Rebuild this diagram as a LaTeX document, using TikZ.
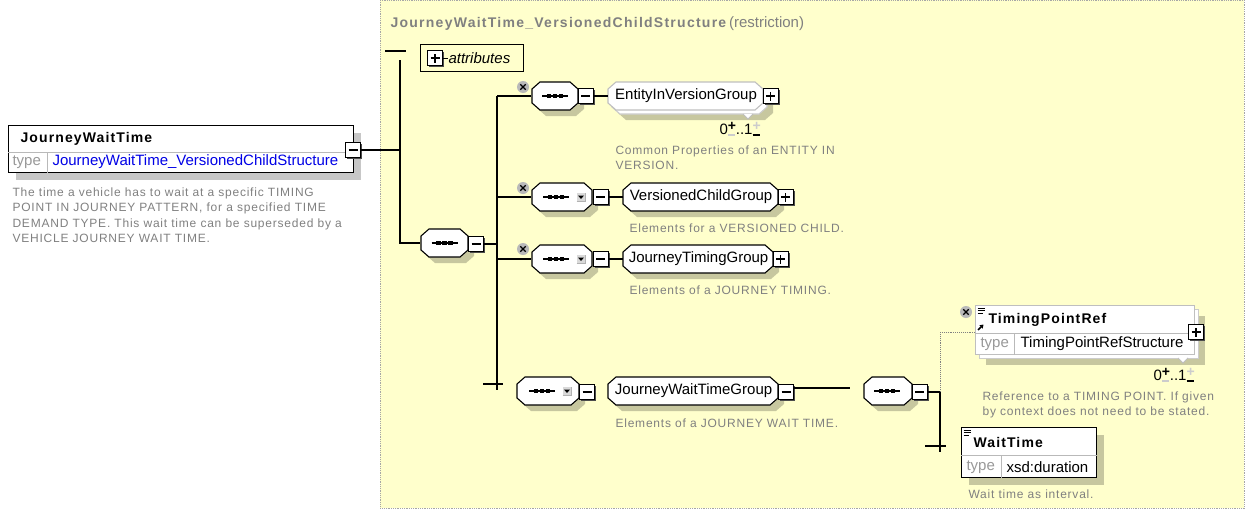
\documentclass[tikz,border=0pt]{standalone}
\usepackage{fontspec}
\setmainfont{Liberation Sans}
\newfontfamily\hdrff[LetterSpace=8]{Liberation Sans}
\newfontfamily\titleff[LetterSpace=9]{Liberation Sans}
\newfontfamily\descff[LetterSpace=6.5]{Liberation Sans}
\usepackage{tikz}
\usetikzlibrary{arrows.meta,positioning,shadows}

\definecolor{panelyellow}{RGB}{255,255,204}
\definecolor{descgray}{RGB}{128,128,128}
\definecolor{typeblue}{RGB}{0,0,230}

\newcommand\lblfont{\fontsize{15}{18}\selectfont}
\newcommand\hdrfont{\hdrff\bfseries\fontsize{14}{17}\selectfont}
\newcommand\descfont{\descff\fontsize{12}{15.5}\selectfont}
\newcommand\occpm[2]{\makebox[8pt][l]{\rlap{\raisebox{3.5pt}{\fontsize{14}{14}\selectfont\bfseries\color{#1}+}}\raisebox{-1.5pt}{\color{#2}\rule{7pt}{1.2pt}}}}

\begin{document}
\begin{tikzpicture}[
  x=1pt, y=-1pt, line width=1.1pt,
  panel/.style={draw=gray!70, densely dotted, line width=0.8pt, fill=panelyellow, anchor=north west, inner sep=0pt},
  octnode/.style={rectangle, inner sep=0pt, minimum height=28pt},
  grpnode/.style={octnode, font=\lblfont, anchor=west},
  pics/octo/.style={code={
    \fill[black, opacity=0.22] (-#1+14,-8) -- (#1-2,-8) -- (#1+6,-1) -- (#1+6,13) -- (#1-2,20) -- (-#1+14,20) -- (-#1+6,13) -- (-#1+6,-1) -- cycle;
    \draw[fill=white, pic actions] (-#1+8,-14) -- (#1-8,-14) -- (#1,-7) -- (#1,7) -- (#1-8,14) -- (-#1+8,14) -- (-#1,7) -- (-#1,-7) -- cycle;}},
  pics/octoflat/.style={code={
    \draw[fill=white, pic actions] (-#1+8,-14) -- (#1-8,-14) -- (#1,-7) -- (#1,7) -- (#1-8,14) -- (-#1+8,14) -- (-#1,7) -- (-#1,-7) -- cycle;}},
  tglbox/.style={draw, fill=white, minimum size=15pt, inner sep=0pt, line width=0.9pt,
    drop shadow={shadow xshift=1.6pt, shadow yshift=-1.6pt, fill=black!70, opacity=1}},
  minustgl/.style={tglbox, path picture={\draw[line width=1.1pt] ([xshift=-4.5pt]path picture bounding box.center) -- ([xshift=4.5pt]path picture bounding box.center);}},
  plustgl/.style={tglbox, path picture={\draw[line width=1.1pt] ([xshift=-4.5pt]path picture bounding box.center) -- ([xshift=4.5pt]path picture bounding box.center)
    ([yshift=-4.5pt]path picture bounding box.center) -- ([yshift=4.5pt]path picture bounding box.center);}},
  elembox/.style={draw, fill=white, inner sep=0pt, anchor=north west,
    drop shadow={shadow xshift=7pt, shadow yshift=-7pt, fill=black, opacity=0.22}},
  elemback/.style={draw=gray!40, fill=white, inner sep=0pt, anchor=north west,
    drop shadow={shadow xshift=6pt, shadow yshift=-6pt, fill=black, opacity=0.22}},
  optelem/.style={draw=gray!50, fill=white, inner sep=0pt, anchor=north west},
  sepline/.style={draw=gray!55, line width=0.8pt},
  optconn/.style={draw=gray, densely dotted, line width=0.9pt},
  lbl/.style={font=\lblfont, anchor=west, inner sep=0pt},
  hdr/.style={font=\hdrfont, anchor=west, inner sep=0pt},
  typelbl/.style={font=\lblfont, text=gray!80, anchor=west, inner sep=0pt},
  occ/.style={font=\lblfont, inner sep=0pt},
  desc/.style={font=\descfont, text=descgray, align=left, anchor=north west, inner sep=0pt},
  seqmark/.pic={\draw[line width=1.1pt] (-13,0) -- (13,0);
    \foreach \i in {-6,0,6} \fill (\i-2.4,-2.4) rectangle (\i+2.4,2.4);},
  ddmark/.pic={\fill[gray!30] (-4.5,-4.5) rectangle (4.5,4.5);
    \draw[gray!60, line width=0.6pt] (-4.5,4.5) -- (4.5,4.5) -- (4.5,-4.5);
    \fill (-3,-1.5) -- (3,-1.5) -- (0,2) -- cycle;},
  optmark/.pic={\fill[gray!55] (0,0) circle (6pt);
    \draw[line width=1.3pt] (-2.7,-2.7) -- (2.7,2.7) (-2.7,2.7) -- (2.7,-2.7);},
  docmark/.pic={\draw[line width=0.8pt] (-3.5,-3) -- (3.5,-3) (-3.5,-0.5) -- (3.5,-0.5) (-3.5,2) -- (2,2);},
  refarrow/.pic={\draw[line width=1.6pt, -{Triangle[length=3.5pt,width=4.5pt]}] (-3,3) -- (2.5,-2.5);},
  stackmark/.pic={\draw[gray!50, line width=0.8pt, fill=white] (-5,0) -- (0,5) -- (5,0);}
]
\useasboundingbox (0,0) rectangle (1246,509);

% complex type panel
\node[panel, minimum width=864pt, minimum height=508pt] (panel) at (380,0) {};
\node[anchor=west, text=descgray, inner sep=0pt] (ctitle) at (390,24)
  {{\titleff\bfseries\fontsize{14}{17}\selectfont JourneyWaitTime\_VersionedChildStructure}
   {\fontsize{15}{17}\selectfont (restriction)}};

% top element
\node[elembox, minimum width=345pt, minimum height=47pt] (jwt) at (8,125) {};
\node[hdr] (jwtname) at (20,139) {JourneyWaitTime};
\draw[sepline] ([yshift=-27pt]jwt.north west) -- ([yshift=-27pt]jwt.north east);
\draw[sepline] ([xshift=39pt,yshift=-27pt]jwt.north west) -- ([xshift=39pt]jwt.south west);
\node[typelbl] (jwttype) at (12,162) {type};
\node[lbl, text=typeblue] (jwtval) at (52,162) {JourneyWaitTime\_VersionedChildStructure};
\node[minustgl] (jwttgl) at (353,150) {};
\node[desc] (jwtdesc) at (12,187) {The time a vehicle has to wait at a specific TIMING\\POINT IN JOURNEY PATTERN, for a specified TIME\\DEMAND TYPE. This wait time can be superseded by a\\VEHICLE JOURNEY WAIT TIME.};

% bracket of the type
\coordinate (brl) at (385,51);
\coordinate (brr) at (406,51);
\coordinate (brtop) at (400,60);
\coordinate (brbot) at (400,243);
\draw (brl) -- (brr);
\draw (jwttgl.east) -- (jwttgl.east -| brtop);

% attributes
\node[draw, anchor=north west, minimum width=103pt, minimum height=27pt, line width=0.9pt] (attrs) at (420,44) {};
\node[plustgl] (attrtgl) at (435,58) {};
\node[lbl, font=\lblfont\itshape] (attrtxt) at (448,58) {attributes};
\draw[line width=0.9pt] (attrtgl.east) -- (attrtxt.west);

% main sequence
\pic at (444.5,243) {octo=23.5};
\node[octnode, minimum width=47pt] (mainseq) at (444.5,243) {};
\pic at (mainseq) {seqmark};
\node[minustgl] (maintgl) at (476,244) {};
\draw (brtop) -- (brbot) -- (mainseq.west);
\coordinate (spinetop) at (497,96);
\coordinate (spinebot) at (497,390);
\coordinate (tickl) at (483,384);
\coordinate (tickr) at (503,384);
\draw (spinetop) -- (spinebot);
\draw (tickl) -- (tickr);
\draw (maintgl.east) -- (maintgl.east -| spinetop);

% EntityInVersionGroup
\pic at (523,87) {optmark};
\pic at (555,96) {octo=23};
\node[octnode, minimum width=46pt] (seqa) at (555,96) {};
\pic at (seqa) {seqmark};
\node[minustgl] (seqatgl) at (585.5,96) {};
\pic[draw=gray!40] at (689.5,100) {octo=77.5};
\pic at (748,114) {stackmark};
\pic[draw=gray!50] at (685.5,96) {octoflat=77.5};
\node[grpnode, minimum width=155pt] (eivg) at (608,96) {EntityInVersionGroup};
\node[plustgl] (eivgtgl) at (770.5,96) {};
\draw (spinetop) -- (seqa.west);
\draw (seqatgl.east) -- (eivg.west);
\node[occ] (eivgocc) at (740,129) {0\occpm{black}{gray!40}..1\occpm{gray!40}{black}};
\node[desc] (eivgdesc) at (615,145) {Common Properties of an ENTITY IN\\VERSION.};

% VersionedChildGroup
\pic at (523,188) {optmark};
\pic at (562,197) {octo=30};
\node[octnode, minimum width=60pt] (seqb) at (562,197) {};
\pic at (556,197) {seqmark};
\pic at (581,197) {ddmark};
\node[minustgl] (seqbtgl) at (600.5,197) {};
\pic at (700.5,197) {octo=77.5};
\node[grpnode, minimum width=155pt] (vcg) at (623,197) {VersionedChildGroup};
\node[plustgl] (vcgtgl) at (785.5,197) {};
\draw (seqb.west -| spinetop) -- (seqb.west);
\draw (seqbtgl.east) -- (vcg.west);
\node[desc] (vcgdesc) at (629,223) {Elements for a VERSIONED CHILD.};

% JourneyTimingGroup
\pic at (523,249) {optmark};
\pic at (562,259) {octo=30};
\node[octnode, minimum width=60pt] (seqc) at (562,259) {};
\pic at (556,259) {seqmark};
\pic at (581,259) {ddmark};
\node[minustgl] (seqctgl) at (600.5,259) {};
\pic at (698,259) {octo=75};
\node[grpnode, minimum width=150pt] (jtg) at (623,259) {JourneyTimingGroup};
\node[plustgl] (jtgtgl) at (780.5,259) {};
\draw (seqc.west -| spinetop) -- (seqc.west);
\draw (seqctgl.east) -- (jtg.west);
\node[desc] (jtgdesc) at (629,285) {Elements of a JOURNEY TIMING.};

% JourneyWaitTimeGroup
\pic at (548,391) {octo=31};
\node[octnode, minimum width=62pt] (seqd) at (548,391) {};
\pic at (542,391) {seqmark};
\pic at (567,391) {ddmark};
\node[minustgl] (seqdtgl) at (587,392) {};
\pic at (693,391) {octo=85};
\node[grpnode, minimum width=170pt] (jwtg) at (608,391) {JourneyWaitTimeGroup};
\node[minustgl] (jwtgtgl) at (786,392) {};
\coordinate (jwtgend) at (850,388);
\draw (jwtgtgl.east |- jwtgend) -- (jwtgend);
\node[desc] (jwtgdesc) at (615,418) {Elements of a JOURNEY WAIT TIME.};

% inner sequence
\pic at (888,391) {octo=24};
\node[octnode, minimum width=48pt] (seqe) at (888,391) {};
\pic at (887,391) {seqmark};
\node[minustgl] (seqetgl) at (919.5,392) {};
\coordinate (rspinetop) at (940,332);
\coordinate (rspinemid) at (940,392);
\coordinate (rspinebot) at (940,452);
\coordinate (rtickl) at (925,446);
\coordinate (rtickr) at (946,446);
\draw (seqetgl.east) -- (rspinemid);
\draw[optconn] (rspinetop) -- (rspinemid);
\draw (rspinemid) -- (rspinebot);
\draw (rtickl) -- (rtickr);

% TimingPointRef
\node[elemback, minimum width=219pt, minimum height=49pt] (tprback) at (979,309) {};
\pic at (1183,358) {stackmark};
\node[optelem, minimum width=219pt, minimum height=49pt] (tpr) at (975,305) {};
\draw[sepline] ([yshift=-28pt]tpr.north west) -- ([yshift=-28pt]tpr.north east);
\draw[sepline] ([xshift=39pt,yshift=-28pt]tpr.north west) -- ([xshift=39pt]tpr.south west);
\pic at (981,311) {docmark};
\pic at (981,327) {refarrow};
\pic at (966,312) {optmark};
\node[hdr] (tprname) at (988,320) {TimingPointRef};
\node[typelbl] (tprtype) at (980,344) {type};
\node[lbl] (tprval) at (1020,344) {TimingPointRefStructure};
\node[plustgl] (tprtgl) at (1196,332) {};
\draw[optconn] (rspinetop) -- (tpr.west |- rspinetop);
\node[occ] (tprocc) at (1174,375) {0\occpm{black}{gray!40}..1\occpm{gray!40}{black}};
\node[desc] (tprdesc) at (982,391) {Reference to a TIMING POINT. If given\\by context does not need to be stated.};

% WaitTime
\node[elembox, minimum width=135pt, minimum height=50pt] (wt) at (961,427) {};
\draw[sepline] ([yshift=-28pt]wt.north west) -- ([yshift=-28pt]wt.north east);
\draw[sepline] ([xshift=40pt,yshift=-28pt]wt.north west) -- ([xshift=40pt]wt.south west);
\pic at (967,433) {docmark};
\node[hdr] (wtname) at (973,442) {WaitTime};
\node[typelbl] (wttype) at (966,467) {type};
\node[lbl] (wtval) at (1006,467) {xsd:duration};
\node[desc] (wtdesc) at (968,489) {Wait time as interval.};
\end{tikzpicture}
\end{document}
